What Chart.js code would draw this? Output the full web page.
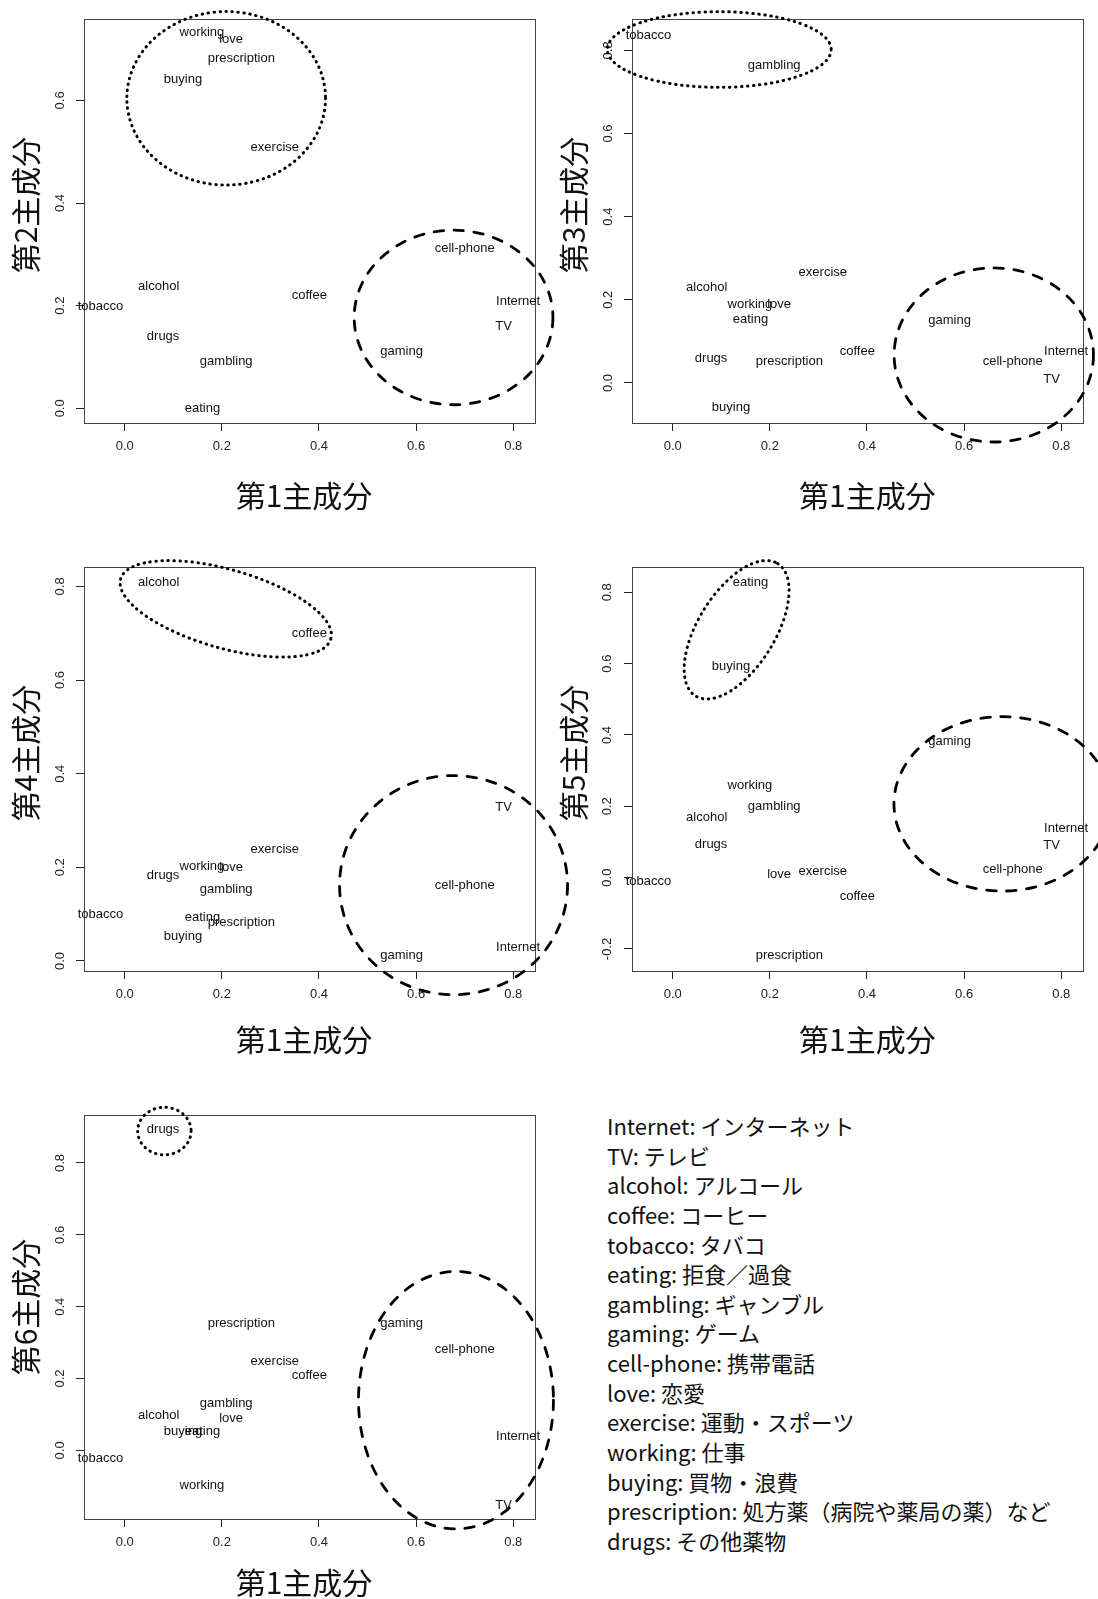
<!DOCTYPE html>
<html>
<head>
<meta charset="utf-8">
<script src="https://cdn.jsdelivr.net/npm/chart.js@4.4.1/dist/chart.umd.min.js"></script>
<style>
html, body { margin: 0; padding: 0; background: #fff; overflow: hidden; }
#page { position: relative; width: 1098px; height: 1599px; overflow: hidden; background: #fff; }
#page canvas { position: absolute; }
#key { position: absolute; left: 607px; top: 1111px; font-family: "Noto Sans CJK JP", sans-serif; font-size: 22px; line-height: 29.64px; color: #111; white-space: nowrap; }
</style>
</head>
<body>
<div id="page">
	<canvas id="pc2" width="600" height="548" style="left:0px;top:0px"></canvas>
	<canvas id="pc3" width="550" height="548" style="left:548px;top:0px"></canvas>
	<canvas id="pc4" width="600" height="548" style="left:0px;top:548px"></canvas>
	<canvas id="pc5" width="550" height="548" style="left:548px;top:548px"></canvas>
	<canvas id="pc6" width="600" height="548" style="left:0px;top:1096px"></canvas>
	<div id="key"></div>
</div>
<script>
'use strict';

// item names and their loadings on each component
var items = ['Internet', 'TV', 'alcohol', 'coffee', 'tobacco', 'eating', 'gambling', 'gaming', 'cell-phone', 'love', 'exercise', 'working', 'buying', 'prescription', 'drugs'];
var japanese = ['インターネット', 'テレビ', 'アルコール', 'コーヒー', 'タバコ', '拒食／過食', 'ギャンブル', 'ゲーム', '携帯電話', '恋愛', '運動・スポーツ', '仕事', '買物・浪費', '処方薬（病院や薬局の薬）など', 'その他薬物'];

var pc1 = [0.810, 0.780, 0.070, 0.380, -0.050, 0.160, 0.209, 0.570, 0.700, 0.219, 0.309, 0.159, 0.120, 0.240, 0.079];
var pc2 = [0.209, 0.159, 0.238, 0.219, 0.199, 0.000, 0.092, 0.111, 0.311, 0.719, 0.509, 0.732, 0.641, 0.681, 0.141];
var pc3 = [0.077, 0.009, 0.230, 0.077, 0.837, 0.152, 0.763, 0.151, 0.051, 0.188, 0.267, 0.189, -0.059, 0.051, 0.060];
var pc4 = [0.029, 0.328, 0.808, 0.699, 0.099, 0.093, 0.152, 0.011, 0.161, 0.199, 0.238, 0.202, 0.052, 0.082, 0.182];
var pc5 = [0.137, 0.089, 0.168, -0.053, -0.011, 0.829, 0.201, 0.381, 0.022, 0.010, 0.017, 0.260, 0.592, -0.219, 0.093];
var pc6 = [0.039, -0.153, 0.097, 0.209, -0.023, 0.053, 0.130, 0.353, 0.281, 0.089, 0.248, -0.098, 0.053, 0.353, 0.893];

// axis limits and ticks
var xLimits = [-0.0838, 0.8447];
var xTicks = [0, 0.2, 0.4, 0.6, 0.8];
var yLimits2 = [-0.0286, 0.7585];
var yLimits3 = [-0.0963, 0.8754];
var yLimits4 = [-0.0214, 0.8414];
var yLimits5 = [-0.2617, 0.8710];
var yLimits6 = [-0.1909, 0.9336];
var yTicks2 = [0, 0.2, 0.4, 0.6];
var yTicks3 = [0, 0.2, 0.4, 0.6, 0.8];
var yTicks4 = [0, 0.2, 0.4, 0.6, 0.8];
var yTicks5 = [-0.2, 0, 0.2, 0.4, 0.6, 0.8];
var yTicks6 = [0, 0.2, 0.4, 0.6, 0.8];

// groups circled on each plot: centre, radii (data units), tilt in degrees
var rings2 = [
	{ cx: 0.2089, cy: 0.604, rx: 0.2045, ry: 0.169, rot: 0, dots: true },
	{ cx: 0.677, cy: 0.177, rx: 0.2046, ry: 0.170, rot: 0, dots: false }
];
var rings3 = [
	{ cx: 0.0958, cy: 0.802, rx: 0.2304, ry: 0.091, rot: 0, dots: true },
	{ cx: 0.661, cy: 0.0674, rx: 0.2052, ry: 0.2094, rot: 0, dots: false }
];
var rings4 = [
	{ cx: 0.208, cy: 0.752, rx: 0.225, ry: 0.084, rot: 15.9, dots: true },
	{ cx: 0.677, cy: 0.162, rx: 0.2347, ry: 0.234, rot: 0, dots: false }
];
var rings5 = [
	{ cx: 0.1316, cy: 0.695, rx: 0.1604, ry: 0.1077, rot: -58.2, dots: true },
	{ cx: 0.6785, cy: 0.207, rx: 0.223, ry: 0.2446, rot: 0, dots: false }
];
var rings6 = [
	{ cx: 0.0817, cy: 0.889, rx: 0.055, ry: 0.0662, rot: 0, dots: true },
	{ cx: 0.682, cy: 0.1397, rx: 0.2007, ry: 0.3584, rot: 0, dots: false }
];

var panels = [
	{ id: 'pc2', values: pc2, title: '第2主成分', limits: yLimits2, ticks: yTicks2, rings: rings2, col: 0, row: 0 },
	{ id: 'pc3', values: pc3, title: '第3主成分', limits: yLimits3, ticks: yTicks3, rings: rings3, col: 1, row: 0 },
	{ id: 'pc4', values: pc4, title: '第4主成分', limits: yLimits4, ticks: yTicks4, rings: rings4, col: 0, row: 1 },
	{ id: 'pc5', values: pc5, title: '第5主成分', limits: yLimits5, ticks: yTicks5, rings: rings5, col: 1, row: 1 },
	{ id: 'pc6', values: pc6, title: '第6主成分', limits: yLimits6, ticks: yTicks6, rings: rings6, col: 0, row: 2 }
];

var tickFont = { family: '"Liberation Sans", Arial, sans-serif', size: 13 };
var titleFont = '30px "Noto Sans CJK JP", sans-serif';

function makeOverlay(panel) {
	return {
		id: 'overlay_' + panel.id,
		afterDatasetsDraw: function(chart) {
			var ctx = chart.ctx;
			var area = chart.chartArea;
			var xs = chart.scales.x;
			var ys = chart.scales.y;
			ctx.save();

			// frame round the plot
			ctx.strokeStyle = '#444';
			ctx.lineWidth = 1;
			ctx.strokeRect(Math.round(area.left) + 0.5, Math.round(area.top) + 0.5,
				Math.round(area.right - area.left), Math.round(area.bottom - area.top));

			// item names at their points
			ctx.fillStyle = '#111';
			ctx.font = '13px "Liberation Sans", Arial, sans-serif';
			ctx.textAlign = 'center';
			ctx.textBaseline = 'middle';
			var meta = chart.getDatasetMeta(0);
			meta.data.forEach(function(pt, i) {
				ctx.fillText(items[i], pt.x, pt.y);
			});

			// rings
			ctx.strokeStyle = '#000';
			ctx.lineCap = 'round';
			panel.rings.forEach(function(r) {
				var px = xs.getPixelForValue(r.cx);
				var py = ys.getPixelForValue(r.cy);
				var rxp = Math.abs(xs.getPixelForValue(r.cx + r.rx) - px);
				var ryp = Math.abs(ys.getPixelForValue(r.cy + r.ry) - py);
				if (r.dots) {
					ctx.lineWidth = 3;
					ctx.setLineDash([0.5, 5.5]);
				} else {
					ctx.lineWidth = 2.8;
					ctx.setLineDash([9.5, 10.5]);
				}
				ctx.beginPath();
				ctx.ellipse(px, py, rxp, ryp, r.rot * Math.PI / 180, 0, Math.PI * 2);
				ctx.stroke();
			});
			ctx.setLineDash([]);

			// axis titles
			ctx.fillStyle = '#111';
			ctx.font = titleFont;
			ctx.textAlign = 'center';
			ctx.textBaseline = 'middle';
			var midX = (area.left + area.right) / 2 + (panel.col === 0 ? -5.5 : 9.8);
			var belowBy = [73, 68.5, 64][panel.row];
			ctx.fillText('第1主成分', midX, area.bottom + belowBy);

			ctx.translate(area.left - 58, (area.top + area.bottom) / 2 + (panel.row === 2 ? -10 : -16));
			ctx.rotate(-Math.PI / 2);
			ctx.fillText(panel.title, 0, 0);

			ctx.restore();
		}
	};
}

function drawPanel(panel) {
	var canvas = document.getElementById(panel.id);
	var points = [];
	for (var i = 0; i < items.length; i++) {
		points.push({ x: pc1[i], y: panel.values[i] });
	}
	var hasNegative = panel.ticks.some(function(v) { return v < 0; });

	var config = {
		type: 'scatter',
		data: {
			datasets: [{
				label: panel.title,
				data: points,
				pointRadius: 0,
				pointHoverRadius: 0,
				showLine: false
			}]
		},
		options: {
			responsive: false,
			animation: false,
			devicePixelRatio: 1,
			layout: { padding: { top: 19, right: canvas.width - 535, bottom: 0, left: 0 } },
			plugins: { legend: { display: false }, tooltip: { enabled: false }, title: { display: false } },
			scales: {
				x: {
					type: 'linear',
					min: xLimits[0],
					max: xLimits[1],
					afterBuildTicks: function(s) {
						s.ticks = xTicks.map(function(v) { return { value: v }; });
					},
					afterFit: function(s) { s.height = 125; },
					ticks: {
						callback: function(v) { return v.toFixed(1); },
						color: '#222',
						font: tickFont,
						padding: 8,
						maxRotation: 0,
						minRotation: 0,
						autoSkip: false
					},
					grid: { drawOnChartArea: false, drawTicks: true, tickLength: 8, tickColor: '#222' },
					border: { display: false }
				},
				y: {
					type: 'linear',
					min: panel.limits[0],
					max: panel.limits[1],
					afterBuildTicks: function(s) {
						s.ticks = panel.ticks.map(function(v) { return { value: v }; });
					},
					afterFit: function(s) { s.width = 84; },
					ticks: {
						callback: function(v) { return v.toFixed(1); },
						color: '#222',
						font: tickFont,
						padding: hasNegative ? 5 : 7,
						minRotation: 90,
						maxRotation: 90,
						crossAlign: 'center',
						autoSkip: false
					},
					grid: { drawOnChartArea: false, drawTicks: true, tickLength: 8, tickColor: '#222' },
					border: { display: false }
				}
			}
		},
		plugins: [makeOverlay(panel)]
	};

	return new Chart(canvas.getContext('2d'), config);
}

panels.forEach(drawPanel);

// the key of English names to Japanese
var key = document.getElementById('key');
var lines = [];
for (var k = 0; k < items.length; k++) {
	lines.push(items[k] + ': ' + japanese[k]);
}
key.innerHTML = lines.join('<br>');
</script>
</body>
</html>
